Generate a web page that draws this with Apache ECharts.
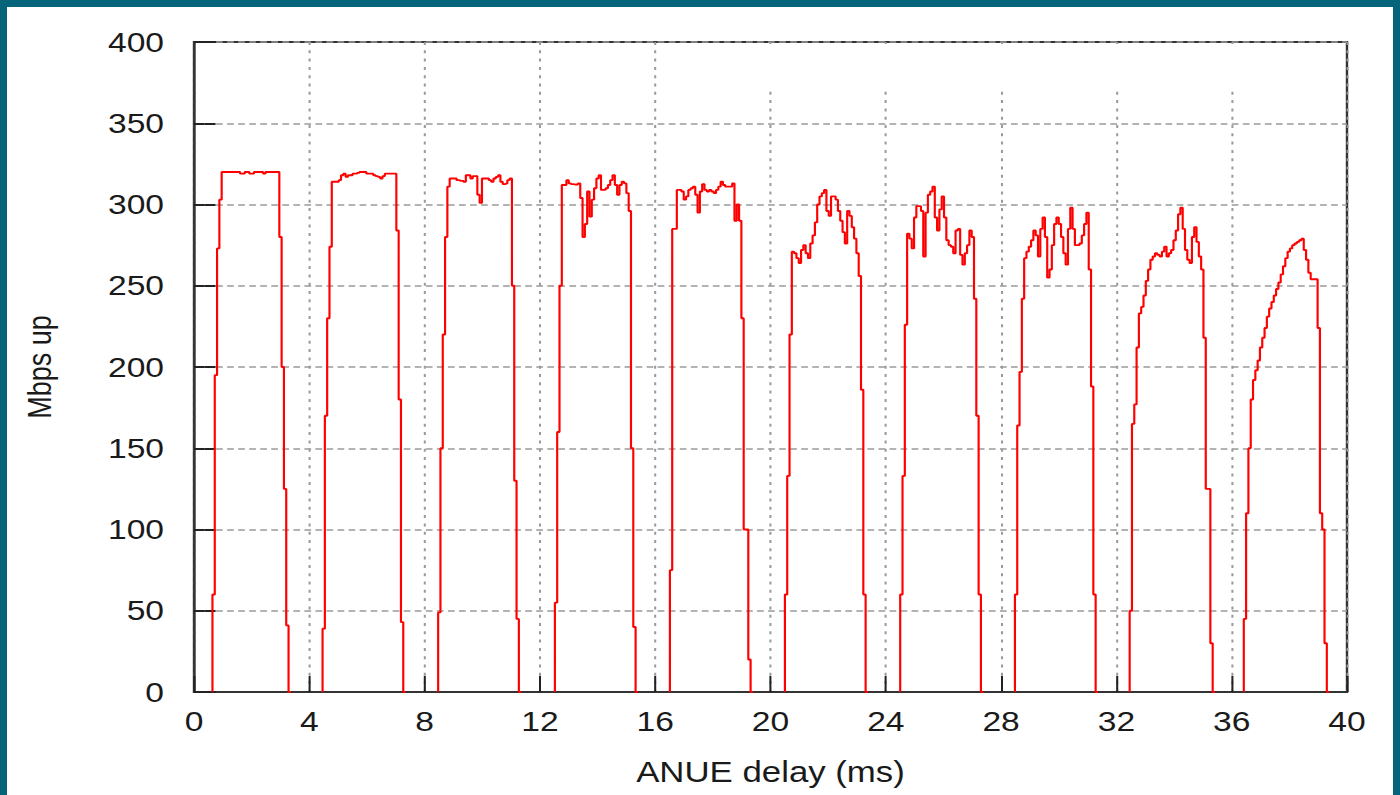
<!DOCTYPE html>
<html>
<head>
<meta charset="utf-8">
<script src="https://cdn.jsdelivr.net/npm/echarts@6/dist/echarts.min.js"></script>
<style>
  html, body { margin:0; padding:0; width:1400px; height:795px; overflow:hidden; background:#05647a; }
  #panel { position:absolute; left:7px; top:7px; right:7px; bottom:0; background:#ffffff; }
  #chart { position:absolute; left:0; top:0; height:795px; transform-origin:0 0; }
</style>
</head>
<body>
<div id="panel"></div>
<div id="chart"></div>
<script>
// ---- data (ANUE delay in ms vs Mbps up) ----
const xTicks = { min: 0, max: 40, step: 4 };
const yTicks = { min: 0, max: 400, step: 50 };
const sampleStep = 0.08; // ms between samples
const burstStart = [0.64, 4.46, 8.47, 12.52, 16.51, 20.5, 24.5, 28.48, 32.46, 36.42];

const burst1 = [60,195,273,303,320, 320,320,320,320,320,320,320,319,319,320,320,319,319,320,320,320,320,319,320,320,320,320,320,320, 280,200,125,41,0];
const burst2 = [39,170,230,274,314, 314,314,315,318,319,317,318,318,319,319,319.5,320,320,320,319,319,319,318,317.5,317,316,317.5,319,319,319,319,319, 284,180,43,0];
const burst3 = [49,150,220,280,311, 316,316,316,315,314.6,314.6,314,318,318,316,317.5,317.5,306,301,316,316,316,315,314,316,317,318,314,312.6,313,315,316, 250,130,45,0];
const burst4 = [55,160,250,312, 312,315,313,312.5,312.3,312.3,313,304,280,288,308,292.5,303,310,316,318,309,309,310,312,315,318,312,306,312,314,313,307,296, 150,40,0];
const burst5 = [75,285,285,309, 309,308,303,305,309,310,311,306,295,308,312.5,309,308,309,308,307,309,311,314,312,311,311,311,313,290,300,290, 230,100,100,20,0];
const burst6 = [60,133,220,271,270,267,264,272,275,270,267,276,281,289,300,305,307,309,296,293,305,305,303,296,290,283,276,296,293,286,279,270,256,186,60,0];
const burst7 = [60,133,226,282,279,273,292,299,299,296,268,295,306,308,311,292,284,297,305,292,278,275,274,270,284,285,269,263,270,275,284,280,242,170,60,0];
const burst8 = [60,164,197,242,267,271,274,278,284,281,268,285,292,280,255,260,275,288,292,288,280,270,263,285,298,285,275,275,276,281,288,295,260,188,60,0];
const burst9 = [50,165,177,212,233,237,244,253,260,266,268,270,269,268,271,274,268,270,272,278,284,294,298,285,272,266,264,280,286,277,268,260,218,125,125,30,0];
const burst10 = [45,110,150,180,192,198,204,212,218,224,231,236,240,244,248,252,257,262,267,271,273,275,276,277,278,279,272,266,258,254,254,254,224,110,100,30,0];

// ---- layout ----
const S = 1.2; // horizontal stretch of the original figure
const W = 1400 / S;
const chartEl = document.getElementById('chart');
chartEl.style.width = W + 'px';
chartEl.style.transform = 'scaleX(' + S + ')';

const bursts = [burst1, burst2, burst3, burst4, burst5, burst6, burst7, burst8, burst9, burst10];
const seriesData = [];
bursts.forEach(function (vals, i) {
  const t0 = burstStart[i];
  seriesData.push([t0, 0]);
  vals.forEach(function (v, k) {
    seriesData.push([+(t0 + k * sampleStep).toFixed(4), v]);
  });
  seriesData.push([+(t0 + vals.length * sampleStep).toFixed(4), '-']);
});

const FONT = 'Liberation Sans';
const TXT = '#1a1a1a';
const XT = 8;   // x tick length (px)
const YT = 9;   // y tick length (chart units, stretched by S)

function tickAxis(pos, len, width, isX) {
  const ax = {
    type: 'value', position: pos, offset: -len,
    min: isX ? xTicks.min : yTicks.min, max: isX ? xTicks.max : yTicks.max,
    interval: isX ? xTicks.step : yTicks.step,
    axisLine: { show: false },
    axisTick: { show: true, inside: false, length: len, lineStyle: { color: '#222', width: width } },
    axisLabel: { show: false }, splitLine: { show: false }
  };
  return ax;
}

const chart = echarts.init(chartEl, null, { renderer: 'svg', width: W, height: 795 });
chart.setOption({
  animation: false,
  grid: {
    left: 194 / S, right: (1400 - 1347) / S, top: 42, bottom: 103,
    show: true, borderColor: '#333', borderWidth: 2, backgroundColor: 'transparent'
  },
  graphic: [{
    type: 'rect', z: 1, silent: true,
    shape: { x: 700 / S, y: 44, width: (1343 - 700) / S, height: 45 },
    style: { fill: '#ffffff' }
  }],
  xAxis: [{
    type: 'value', min: xTicks.min, max: xTicks.max, interval: xTicks.step, position: 'bottom',
    axisLine: { show: true, lineStyle: { color: '#333', width: 2 } },
    axisTick: { show: false },
    axisLabel: { margin: 15, fontSize: 28, fontFamily: FONT, color: TXT },
    splitLine: { show: true, lineStyle: { type: [3, 5.3], color: '#9a9a9a', width: 1.7 } },
    name: 'ANUE delay (ms)', nameLocation: 'middle', nameGap: 66,
    nameTextStyle: { fontSize: 29, fontFamily: FONT, color: TXT }
  },
    tickAxis('bottom', XT, 1.7, true),
    tickAxis('top', XT, 1.7, true)
  ],
  yAxis: [{
    type: 'value', min: yTicks.min, max: yTicks.max, interval: yTicks.step, position: 'left',
    axisLine: { show: true, lineStyle: { color: '#333', width: 2 } },
    axisTick: { show: false },
    axisLabel: { margin: 25, fontSize: 28, fontFamily: FONT, color: TXT },
    splitLine: { show: true, lineStyle: { type: [5.6, 3.6], color: '#9a9a9a', width: 1.7 } },
    name: 'Mbps up', nameLocation: 'middle', nameGap: 115, nameRotate: 90,
    nameTextStyle: { fontSize: 27, fontFamily: FONT, color: TXT }
  },
    tickAxis('left', YT, 2, false),
    tickAxis('right', YT, 2, false)
  ],
  series: [{
    type: 'line', xAxisIndex: 0, yAxisIndex: 0,
    data: seriesData, step: 'end', symbol: 'none', showSymbol: false,
    connectNulls: false, z: 3,
    lineStyle: { color: '#ff0000', width: 1.8 }
  }]
});
</script>
</body>
</html>
